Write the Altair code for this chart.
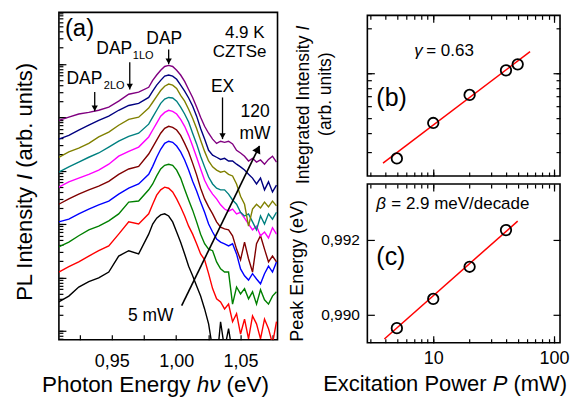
import altair as alt
import pandas as pd

FONT = "Liberation Sans"

# ---------------- panel (a): PL spectra (log10 of intensity, arb. units) -------------
energy_eV = [0.9089, 0.9167, 0.9244, 0.9322, 0.9399, 0.9477, 0.9554, 0.9632, 0.9709, 0.9787,
             0.9818, 0.9849, 0.9880, 0.9911, 0.9942, 0.9973, 1.0004, 1.0035, 1.0066, 1.0097,
             1.0128, 1.0159, 1.0190, 1.0221, 1.0252, 1.0283, 1.0314, 1.0345, 1.0376, 1.0407,
             1.0438, 1.0469, 1.0500, 1.0531, 1.0562, 1.0593, 1.0624, 1.0655, 1.0686, 1.0717,
             1.0748, 1.0779]

power_mW = ["5", "10", "20", "30", "40", "50", "60", "80", "100", "120"]
curve_colors = ["#000000", "#FF0000", "#008000", "#0000FF", "#800000",
                "#FF00FF", "#008080", "#808000", "#000080", "#800080"]

logI_5 = [0.54, 0.65, 0.82, 0.92, 0.99, 1.10, 1.40, 1.50, 1.44, 1.81,
          2.00, 2.11, 2.17, 2.19, 2.15, 2.04, 1.85, 1.66, 1.44, 1.21, 1.03, 0.84, 0.65, 0.41, 0.13,
          -0.34, -0.62, 0.17, -0.34, 0.04, -0.43, -0.62, -0.62, -0.62, -0.62, -0.62, -0.62, -0.62,
          -0.62, -0.62, -0.62, -0.62]
logI_10 = [1.10, 1.20, 1.29, 1.40, 1.50, 1.59, 1.81, 2.04, 2.00, 2.19,
           2.37, 2.54, 2.64, 2.69, 2.67, 2.60, 2.47, 2.32, 2.15, 1.96, 1.81, 1.63, 1.44, 1.33, 1.07,
           0.79, 0.60, 0.54, 0.41, 0.50, 0.17, 0.32, -0.06, 0.22, -0.15, 0.28, 0.13, -0.15, 0.22,
           0.04, -0.24, 0.17]
logI_20 = [1.57, 1.66, 1.78, 1.89, 1.96, 2.06, 2.19, 2.41, 2.43, 2.64,
           2.75, 2.90, 3.03, 3.10, 3.12, 3.10, 3.01, 2.86, 2.65, 2.45, 2.26, 2.04, 1.81, 1.63, 1.53,
           1.50, 1.29, 1.16, 1.10, 1.10, 0.50, 0.82, 0.69, 0.79, 0.60, 0.73, 0.50, 0.77, 0.58,
           0.50, 0.65, 0.73]
logI_30 = [2.04, 2.09, 2.19, 2.28, 2.36, 2.43, 2.56, 2.67, 2.75, 2.93,
           3.08, 3.25, 3.40, 3.51, 3.55, 3.53, 3.46, 3.35, 3.20, 3.01, 2.80, 2.62, 2.41, 2.22, 2.00,
           1.85, 1.72, 1.66, 1.63, 1.59, 1.63, 1.44, 1.16, 1.03, 0.95, 1.07, 0.97, 0.88, 1.07,
           1.21, 1.10, 1.29]
logI_40 = [2.37, 2.47, 2.56, 2.64, 2.71, 2.80, 2.93, 3.03, 3.08, 3.31,
           3.44, 3.57, 3.70, 3.79, 3.83, 3.81, 3.76, 3.66, 3.51, 3.35, 3.14, 2.92, 2.67, 2.47, 2.32,
           2.19, 2.04, 1.94, 1.91, 1.89, 1.78, 1.53, 1.33, 1.66, 1.35, 1.10, 1.63, 1.78, 1.53,
           1.29, 1.40, 1.29]
logI_50 = [2.69, 2.79, 2.86, 2.93, 3.01, 3.12, 3.27, 3.36, 3.44, 3.63,
           3.76, 3.89, 4.02, 4.09, 4.13, 4.11, 4.06, 3.96, 3.83, 3.66, 3.46, 3.25, 3.03, 2.82, 2.67,
           2.56, 2.47, 2.36, 2.28, 2.24, 2.28, 2.19, 2.22, 2.11, 2.00, 1.89, 1.96, 1.78, 1.85,
           1.74, 1.93, 1.81]
logI_60 = [2.97, 3.07, 3.16, 3.25, 3.33, 3.44, 3.55, 3.64, 3.70, 3.87,
           4.00, 4.13, 4.26, 4.34, 4.37, 4.36, 4.30, 4.19, 4.06, 3.91, 3.70, 3.50, 3.27, 3.07, 2.88,
           2.75, 2.67, 2.64, 2.64, 2.56, 2.45, 2.37, 2.22, 2.15, 2.19, 2.04, 1.89, 2.15, 2.00,
           2.19, 2.09, 2.22]
logI_80 = [3.25, 3.35, 3.42, 3.51, 3.63, 3.72, 3.85, 3.96, 4.00, 4.17,
           4.28, 4.39, 4.50, 4.58, 4.62, 4.60, 4.54, 4.41, 4.30, 4.15, 3.98, 3.79, 3.57, 3.36, 3.18,
           3.07, 3.01, 2.97, 2.99, 2.93, 2.90, 2.75, 2.52, 2.37, 1.96, 2.28, 2.37, 2.30, 2.41,
           2.32, 2.43, 2.34]
logI_100 = [3.59, 3.66, 3.76, 3.85, 3.94, 4.02, 4.13, 4.22, 4.26, 4.37,
            4.49, 4.60, 4.69, 4.77, 4.79, 4.77, 4.71, 4.60, 4.49, 4.36, 4.21, 4.02, 3.79, 3.59, 3.38,
            3.29, 3.25, 3.21, 3.23, 3.18, 3.18, 3.12, 3.07, 3.01, 2.93, 2.86, 2.75, 2.86, 2.64,
            2.79, 2.60, 2.73]
logI_120 = [3.94, 4.00, 4.06, 4.09, 4.13, 4.19, 4.30, 4.43, 4.47, 4.56,
            4.69, 4.79, 4.88, 4.95, 4.97, 4.95, 4.88, 4.79, 4.67, 4.52, 4.37, 4.19, 4.00, 3.83, 3.70,
            3.59, 3.51, 3.55, 3.53, 3.55, 3.50, 3.38, 3.33, 3.27, 3.18, 3.23, 3.16, 3.20, 3.12,
            3.21, 3.27, 3.16]

spectra = {"5": logI_5, "10": logI_10, "20": logI_20, "30": logI_30, "40": logI_40,
           "50": logI_50, "60": logI_60, "80": logI_80, "100": logI_100, "120": logI_120}

# peak-label arrows (DAP_2LO, DAP_1LO, DAP, EX)
arrow_E = [0.9368, 0.9640, 0.9942, 1.0360]
arrow_top_logI = [4.47, 5.03, 5.27, 4.37]
arrow_tip_logI = [4.11, 4.52, 4.99, 3.59]
# power trend arrow (5 mW -> 120 mW)
trend_E = [1.0043, 1.0647]
trend_logI = [0.47, 3.46]

# ---------------- panel (b): integrated intensity ----------------
P_b = [5, 10, 20, 40, 50]
I_b = [270, 466, 717, 1047, 1148]
fit_b_P = [3.84, 63.3]
fit_b_I = [251, 1396]

# ---------------- panel (c): peak energy ----------------
P_c = [5, 10, 20, 40]
E_c = [0.98964, 0.99042, 0.99128, 0.99226]
fit_c_P = [3.94, 50.0]
fit_c_E = [0.98935, 0.99250]

# ---------------- tables ----------------
rows = []
for p in power_mW:
    for e, v in zip(energy_eV, spectra[p]):
        rows.append({"E": e, "I": 10 ** v, "P": p})
df_a = pd.DataFrame(rows)
df_arrows = pd.DataFrame({"E": arrow_E,
                          "Itop": [10 ** v for v in arrow_top_logI],
                          "Itip": [10 ** v for v in arrow_tip_logI]})
df_trend = pd.DataFrame({"E0": [trend_E[0]], "E1": [trend_E[1]],
                         "I0": [10 ** trend_logI[0]], "I1": [10 ** trend_logI[1]]})
df_b = pd.DataFrame({"P": P_b, "I": I_b})
df_fit_b = pd.DataFrame({"P": fit_b_P, "I": fit_b_I})
df_c = pd.DataFrame({"P": P_c, "E": E_c})
df_fit_c = pd.DataFrame({"P": fit_c_P, "E": fit_c_E})
one_row = pd.DataFrame({"k": [0]})


def neg(v):
    return alt.ExprRef(expr=str(-v))


def txt(s, x, y, size, align="left", style="normal", angle=0):
    return alt.Chart(one_row).mark_text(
        text=s, fontSize=size, align=align, baseline="alphabetic", angle=angle,
        font=FONT, fontStyle=style, color="black"
    ).encode(x=alt.value(x), y=alt.value(y))


def ghost(df, x_enc, y_enc):
    return alt.Chart(df).mark_point(opacity=0).encode(x=x_enc, y=y_enc)


# ---------------- panel (a) ----------------
WA, HA = 219, 328
xA = alt.Scale(domain=[0.909, 1.0787], nice=False, zero=False)
yA = alt.Scale(type="log", domain=[0.68, 9.2e5], nice=False)
a_ticks = [0.925, 0.95, 0.975, 1.0, 1.025, 1.05, 1.075]
y_minor = [k * 10 ** n for n in range(-1, 6) for k in range(1, 10)
           if 0.68 <= k * 10 ** n <= 9.2e5]
y_major = [1, 10, 100, 1000, 10000, 100000]

axis_xA = alt.Axis(
    values=a_ticks,
    labelExpr="(round(datum.value*1000) % 50 == 0) ? replace(format(datum.value, '.2f'), '.', ',') : ''",
    labelFontSize=18, labelPadding=18, tickSize=neg(5), labelOverlap=False, labelFlush=False,
    title=None)
axis_yA = alt.Axis(values=y_minor, labels=False, tickSize=neg(4), title=None)

curves = alt.Chart(df_a).mark_line(strokeWidth=1.4, clip=True).encode(
    x=alt.X("E:Q", scale=xA, axis=axis_xA),
    y=alt.Y("I:Q", scale=yA, axis=axis_yA),
    color=alt.Color("P:N", scale=alt.Scale(domain=power_mW, range=curve_colors), legend=None),
)
arrow_rules = alt.Chart(df_arrows).mark_rule(color="black", strokeWidth=1.3).encode(
    x=alt.X("E:Q", scale=xA, axis=axis_xA),
    y=alt.Y("Itop:Q", scale=yA, axis=axis_yA),
    y2="Itip:Q",
)
arrow_heads = alt.Chart(df_arrows).mark_point(
    shape="triangle-down", filled=True, size=40, color="black", opacity=1, yOffset=-3
).encode(
    x=alt.X("E:Q", scale=xA, axis=axis_xA),
    y=alt.Y("Itip:Q", scale=yA, axis=axis_yA),
)
trend_rule = alt.Chart(df_trend).mark_rule(color="black", strokeWidth=1.6).encode(
    x=alt.X("E0:Q", scale=xA, axis=axis_xA), x2="E1:Q",
    y=alt.Y("I0:Q", scale=yA, axis=axis_yA), y2="I1:Q",
)
trend_head = alt.Chart(df_trend).mark_point(
    shape="triangle-up", filled=True, size=80, color="black", opacity=1,
    angle=26, xOffset=-1.5, yOffset=3
).encode(
    x=alt.X("E1:Q", scale=xA, axis=axis_xA),
    y=alt.Y("I1:Q", scale=yA, axis=axis_yA),
)

texts_a = [
    txt("(a)", 6, 24, 24),
    txt("DAP", 105.5, 31.5, 17.5, align="center"),
    txt("DAP", 55.5, 42, 17.5, align="center"),
    txt("1LO", 74, 47, 11),
    txt("DAP", 25.5, 72, 17.5, align="center"),
    txt("2LO", 45, 77, 11),
    txt("4.9 K", 206, 26, 17, align="right"),
    txt("CZTSe", 208, 45, 17, align="right"),
    txt("EX", 164, 80, 17.5, align="center"),
    txt("120", 196.5, 105, 17.5, align="center"),
    txt("mW", 196.5, 127, 17.5, align="center"),
    txt("5 mW", 92, 309, 17.5, align="center"),
    # axis titles with italic symbols
    txt("Photon Energy", -17, 380.7, 22.5),
    txt("hν", 138, 380.7, 22.5, style="italic"),
    txt("(eV)", 168, 380.7, 22.5),
    txt("PL Intensity", -26.5, 289, 22, angle=270),
    txt("I", -26.5, 167.9, 22, style="italic", angle=270),
    txt("(arb. units)", -26.5, 155.7, 22, angle=270),
]

inner_a = alt.layer(curves, arrow_rules, arrow_heads, trend_rule, trend_head, *texts_a)
major_a = ghost(df_trend, alt.X("E1:Q", scale=xA, axis=axis_xA),
                alt.Y("I0:Q", scale=yA, axis=alt.Axis(
                    orient="right", offset=neg(WA), values=y_major, labels=False,
                    title=None, tickSize=7)))
panel_a = alt.layer(inner_a, major_a).resolve_axis(y="independent").properties(
    width=WA, height=HA)

# ---------------- panels (b) and (c) ----------------
WB, HB, HC = 193, 161, 159
xP = alt.Scale(type="log", domain=[2.85, 112], nice=False)
P_minor = [3, 4, 5, 6, 7, 8, 9, 10, 20, 30, 40, 50, 60, 70, 80, 90, 100]
P_major = [10, 100]

yB = alt.Scale(type="log", domain=[206, 2440], nice=False)
I_minor = [300, 400, 500, 600, 700, 800, 900, 1000, 2000]
I_major = [1000]

fit_b = alt.Chart(df_fit_b).mark_line(color="#FF0000", strokeWidth=1.5, clip=True).encode(
    x=alt.X("P:Q", scale=xP, axis=alt.Axis(orient="bottom", values=P_minor, labels=False,
                                           title=None, tickSize=neg(4))),
    y=alt.Y("I:Q", scale=yB, axis=alt.Axis(orient="left", values=I_minor, labels=False,
                                           title=None, tickSize=neg(4))),
)
pts_b = alt.Chart(df_b).mark_point(shape="circle", filled=False, size=110, strokeWidth=1.8,
                                   color="black", opacity=1).encode(
    x=alt.X("P:Q", scale=xP, axis=alt.Axis(orient="top", values=P_minor, labels=False,
                                           title=None, tickSize=neg(4))),
    y=alt.Y("I:Q", scale=yB, axis=alt.Axis(orient="right", values=I_minor, labels=False,
                                           title=None, tickSize=neg(4))),
)
maj_b1 = ghost(df_b,
               alt.X("P:Q", scale=xP, axis=alt.Axis(orient="top", offset=neg(HB), values=P_major,
                                                    labels=False, title=None, tickSize=7)),
               alt.Y("I:Q", scale=yB, axis=alt.Axis(orient="right", offset=neg(WB), values=I_major,
                                                    labels=False, title=None, tickSize=7)))
maj_b2 = ghost(df_b,
               alt.X("P:Q", scale=xP, axis=alt.Axis(orient="bottom", offset=neg(HB), values=P_major,
                                                    labels=False, title=None, tickSize=7)),
               alt.Y("I:Q", scale=yB, axis=alt.Axis(orient="left", offset=neg(WB), values=I_major,
                                                    labels=False, title=None, tickSize=7)))
texts_b = [
    txt("γ", 47, 41, 17, style="italic"),
    txt("= 0.63", 59, 41, 17),
    txt("(b)", 9, 91, 25),
    txt("Integrated Intensity", -58, 169, 17.5, angle=270),
    txt("I", -58, 15.3, 17.5, style="italic", angle=270),
    txt("(arb. units)", -36.7, 79, 17.5, align="center", angle=270),
]
panel_b = alt.layer(fit_b, pts_b, maj_b1, maj_b2, *texts_b).resolve_axis(
    x="independent", y="independent").properties(width=WB, height=HB)

yC = alt.Scale(domain=[0.98925, 0.99349], nice=False, zero=False)
E_ticks = [0.990, 0.992]

fit_c = alt.Chart(df_fit_c).mark_line(color="#FF0000", strokeWidth=1.5, clip=True).encode(
    x=alt.X("P:Q", scale=xP, axis=alt.Axis(
        orient="bottom", values=P_minor, tickSize=neg(4),
        labelExpr="(datum.value == 10 || datum.value == 100) ? format(datum.value, 'd') : ''",
        labelFontSize=18, labelPadding=11, labelOverlap=False, labelFlush=False, title=None)),
    y=alt.Y("E:Q", scale=yC, axis=alt.Axis(
        orient="left", values=E_ticks, tickSize=neg(7),
        labelExpr="replace(format(datum.value, '.3f'), '.', ',')",
        labelFontSize=15.5, labelPadding=15, labelOverlap=False, labelFlush=False,
        title="Peak Energy (eV)", titleFontSize=18, titlePadding=14, titleY=86.5)),
)
pts_c = alt.Chart(df_c).mark_point(shape="circle", filled=False, size=110, strokeWidth=1.8,
                                   color="black", opacity=1).encode(
    x=alt.X("P:Q", scale=xP, axis=alt.Axis(orient="top", values=P_minor, labels=False,
                                           title=None, tickSize=neg(4))),
    y=alt.Y("E:Q", scale=yC, axis=alt.Axis(orient="right", values=E_ticks, labels=False,
                                           title=None, tickSize=neg(7))),
)
maj_c1 = ghost(df_c,
               alt.X("P:Q", scale=xP, axis=alt.Axis(orient="top", offset=neg(HC), values=P_major,
                                                    labels=False, title=None, tickSize=7)),
               alt.Y("E:Q", scale=yC, axis=None))
maj_c2 = ghost(df_c,
               alt.X("P:Q", scale=xP, axis=alt.Axis(orient="bottom", offset=neg(HC), values=P_major,
                                                    labels=False, title=None, tickSize=7)),
               alt.Y("E:Q", scale=yC, axis=None))
texts_c = [
    txt("β", 9, 25, 17, style="italic"),
    txt("= 2.9 meV/decade", 24, 25, 17),
    txt("(c)", 9, 81, 25),
    txt("Excitation Power", -44.3, 207, 22),
    txt("P", 125.6, 207, 22, style="italic"),
    txt("(mW)", 146.4, 207, 22),
]
panel_c = alt.layer(fit_c, pts_c, maj_c1, maj_c2, *texts_c).resolve_axis(
    x="independent", y="independent").properties(width=WB, height=HC)

spacer = alt.Chart(one_row).mark_point(opacity=0).encode(
    x=alt.X("k:Q", axis=None), y=alt.Y("k:Q", axis=None)
).properties(width=WB, height=1, view=alt.ViewBackground(stroke="transparent"))

right_col = alt.vconcat(
    spacer,
    alt.vconcat(panel_b, panel_c, spacing=8, bounds="flush"),
    spacing=2, bounds="flush",
)

chart = alt.hconcat(panel_a, right_col, spacing=90, bounds="flush").properties(
    padding={"left": 5, "top": 0, "right": 0, "bottom": 0}
).configure(font=FONT).configure_view(
    stroke="black", strokeWidth=1.6
).configure_axis(
    domain=False, grid=False, tickColor="black", tickWidth=1.2,
    labelColor="black", titleColor="black", labelFont=FONT, titleFont=FONT,
    titleFontWeight="normal", minExtent=0, maxExtent=300
)

chart.save("out.html", embed_options={"renderer": "svg", "actions": False})
